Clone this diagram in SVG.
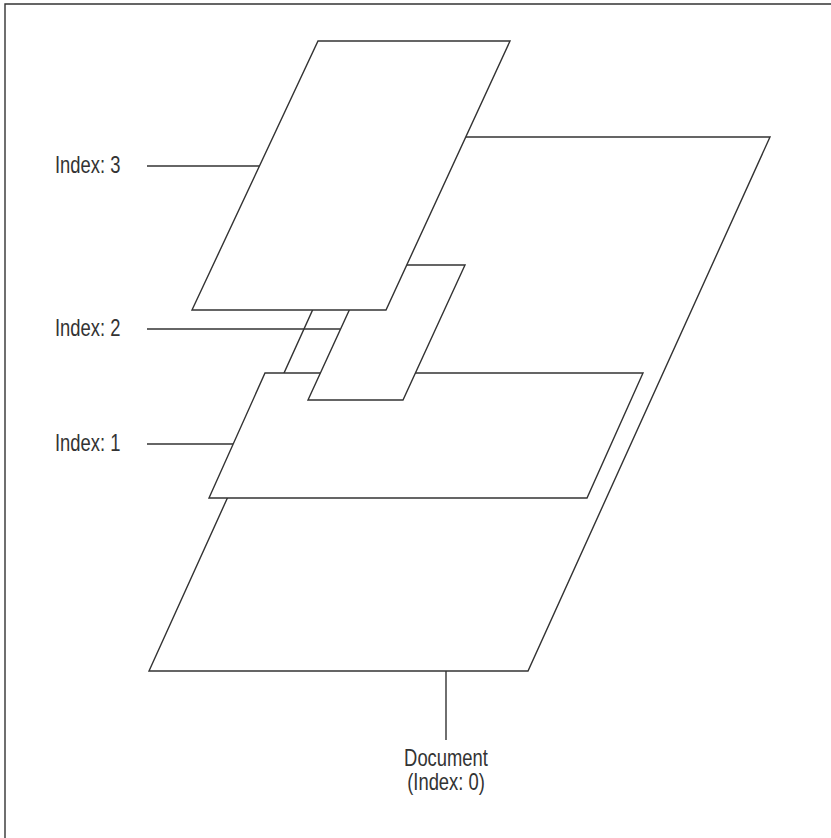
<svg xmlns="http://www.w3.org/2000/svg" width="831" height="838" viewBox="0 0 831 838">
<style>
.sh{fill:#fff;stroke:#333;stroke-width:1.4;stroke-linejoin:miter}
.ln{stroke:#333;stroke-width:1.4;fill:none}
.lb{font-family:"Liberation Sans",Arial,sans-serif;font-size:23px;fill:#333}
</style>
<rect width="831" height="838" fill="#fff"/>
<path class="ln" d="M5,838 V4 H831"/>
<g id="document">
<polygon class="sh" points="391,137 770,137 528,671 149,671"/>
<text class="lb" transform="translate(446,766) scale(0.8,1)" text-anchor="middle">Document</text>
<text class="lb" transform="translate(446,790) scale(0.8,1)" text-anchor="middle">(Index: 0)</text>
</g>
<g id="index1">
<polygon class="sh" points="265,373 643,373 587,498 209,498"/>
<text class="lb" transform="translate(55,450.5) scale(0.8,1)">Index: 1</text>
</g>
<g id="index2">
<polygon class="sh" points="370,265 465,265 403,400 308,400"/>
<text class="lb" transform="translate(55,335.5) scale(0.8,1)">Index: 2</text>
</g>
<g id="index3">
<polygon class="sh" points="318,41 510,41 386,310 192,310"/>
<text class="lb" transform="translate(55,172.5) scale(0.8,1)">Index: 3</text>
</g>
<g id="connectors">
<line class="ln" x1="147" y1="166" x2="259" y2="166"/>
<line class="ln" x1="147" y1="329" x2="340" y2="329"/>
<line class="ln" x1="147" y1="444" x2="233" y2="444"/>
<line class="ln" x1="446" y1="671" x2="446" y2="740"/>
</g>
</svg>
